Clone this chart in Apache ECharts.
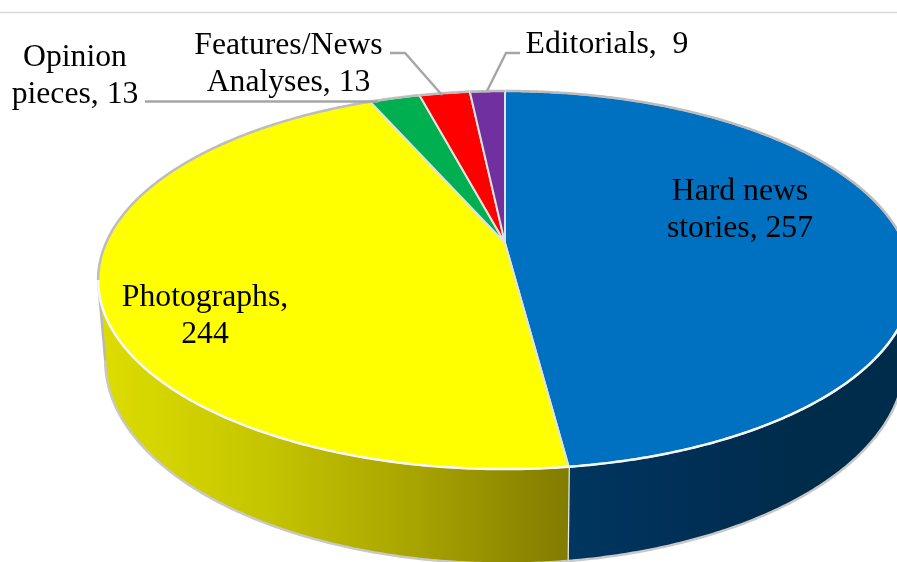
<!DOCTYPE html>
<html>
<head>
<meta charset="utf-8">
<style>
  html, body { margin: 0; padding: 0; background: #fff; }
  #chart { width: 897px; height: 562px; }
</style>
<script src="https://cdn.jsdelivr.net/npm/echarts@6/dist/echarts.min.js"></script>
</head>
<body>
<div id="chart"></div>
<script>
const categories = ['Hard news\nstories', 'Photographs', 'Opinion\npieces', 'Features/News\nAnalyses', 'Editorials']
const values = [257, 244, 13, 13, 9]
const colors = ['#0070c0', '#ffff00', '#00b050', '#ff0000', '#7030a0']

// label placement per slice, separate from the data
const labelSeps = [', ', ',\n', ', ', ', ', ',  ']
const labelPos = [[740, 210], [205, 316], [75, 76], [288.5, 64], [607, 45]]
const leaders = [
  null,
  null,
  [[145, 101.5], [378, 101.5]],
  [[390, 53], [405, 53], [442, 95]],
  [[520, 53], [506, 53], [487, 91]],
]

// the disc is a circle seen in perspective, top face and bottom face
const topFace = { cx: 505, cy: 243, a: 399, b: 181.8, k: 0.196 }
const bottomFace = { cx: 505, cy: 321, a: 392, b: 195, k: 0.196 }
const wallFrom = 101.3
const wallTo = 258.7

const wallFills = [
  { x: 568, x2: 897, stops: ['#00365f', '#003058', '#002c4c', '#002c4c'] },
  { x: 105, x2: 568, stops: ['#dcdc00', '#c6c600', '#a8a400', '#827c00'] },
]

const total = values.reduce((s, v) => s + v, 0)

function project(face, deg) {
  const t = deg * Math.PI / 180
  const w = 1 + face.k * Math.cos(t)
  return [face.cx + face.a * Math.sin(t) / w, face.cy - face.b * Math.cos(t) / w]
}

function arc(face, from, to) {
  const pts = []
  const n = Math.max(2, Math.ceil(Math.abs(to - from) * 2))
  for (let i = 0; i <= n; i++) pts.push(project(face, from + (to - from) * i / n))
  return pts
}

function sliceRange(idx) {
  let sum = 0
  for (let i = 0; i < idx; i++) sum += values[i]
  return [sum / total * 360, (sum + values[idx]) / total * 360]
}

function renderSlice(params, api) {
  const idx = params.dataIndex
  const [from, to] = sliceRange(idx)
  const children = []

  const wa = Math.max(from, wallFrom)
  const wb = Math.min(to, wallTo)
  if (wb > wa) {
    const fill = wallFills[idx]
    const n = fill.stops.length - 1
    children.push({
      type: 'polygon',
      shape: { points: arc(topFace, wa, wb).concat(arc(bottomFace, wb, wa)) },
      style: {
        fill: {
          type: 'linear', global: true, x: fill.x, y: 0, x2: fill.x2, y2: 0,
          colorStops: fill.stops.map((c, i) => ({ offset: i / n, color: c })),
        },
      },
    })
    children.push({
      type: 'polyline',
      shape: { points: arc(bottomFace, wa, wb) },
      style: { fill: null, stroke: '#c8c8c8', lineWidth: 2.5 },
    })
    const p = project(topFace, wb)
    const q = project(bottomFace, wb)
    children.push({
      type: 'line',
      shape: { x1: p[0], y1: p[1], x2: q[0], y2: q[1] },
      style: { stroke: idx === 1 ? '#b8b8b8' : '#ececec', lineWidth: 2.5 },
    })
  }

  children.push({
    type: 'polygon',
    shape: { points: [[topFace.cx, topFace.cy]].concat(arc(topFace, from, to)) },
    style: { fill: colors[idx], stroke: '#e2e2e2', lineWidth: 2, lineJoin: 'round' },
  })

  // rim: white along the front, grey along the back
  if (wb > wa) {
    children.push({
      type: 'polyline',
      shape: { points: arc(topFace, wa, wb) },
      style: { fill: null, stroke: '#f6f6f6', lineWidth: 2.5 },
    })
  }
  const backs = [[Math.max(from, 0), Math.min(to, wallFrom)], [Math.max(from, wallTo), Math.min(to, 360)]]
  backs.forEach(([a, b]) => {
    if (b > a) {
      children.push({
        type: 'polyline',
        shape: { points: arc(topFace, a, b) },
        style: { fill: null, stroke: '#bdbdbd', lineWidth: 2.5 },
      })
    }
  })

  return { type: 'group', children }
}

function renderLabel(params, api) {
  const idx = params.dataIndex
  const children = []
  if (leaders[idx]) {
    children.push({
      type: 'polyline',
      shape: { points: leaders[idx] },
      style: { fill: null, stroke: '#a6a6a6', lineWidth: 2.4 },
    })
  }
  children.push({
    type: 'text',
    style: {
      text: categories[idx] + labelSeps[idx] + api.value(0),
      x: labelPos[idx][0],
      y: labelPos[idx][1],
      align: 'center',
      verticalAlign: 'middle',
      fontFamily: '"Liberation Serif"',
      fontSize: 31.7,
      lineHeight: 37,
      fill: '#000',
    },
  })
  return { type: 'group', children }
}

const chart = echarts.init(document.getElementById('chart'))
chart.setOption({
  animation: false,
  backgroundColor: '#fff',
  graphic: [{
    type: 'line',
    shape: { x1: 0, y1: 12.5, x2: 897, y2: 12.5 },
    style: { stroke: '#d9d9d9', lineWidth: 1.5 },
  }],
  series: [
    {
      type: 'custom',
      coordinateSystem: 'none',
      renderItem: renderSlice,
      data: values,
      silent: true,
      z: 2,
    },
    {
      type: 'custom',
      coordinateSystem: 'none',
      renderItem: renderLabel,
      data: values,
      silent: true,
      z: 3,
    },
  ],
})
window.addEventListener('resize', () => chart.resize())
</script>
</body>
</html>
